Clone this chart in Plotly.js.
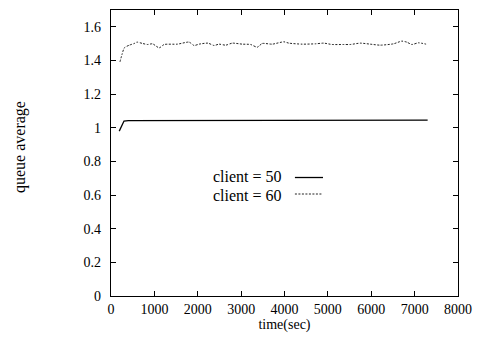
<!DOCTYPE html>
<html>
<head>
<meta charset="utf-8">
<script src="https://cdn.plot.ly/plotly-3.0.1.min.js"></script>
<style>html,body{margin:0;padding:0;background:#fff;}</style>
</head>
<body>
<div id="chart" style="width:484px;height:341px;"></div>
<script>
// client = 50 (solid)
const time50 = [190, 250, 300, 400, 1000, 2000, 3000, 4000, 5000, 6000, 7000, 7300];
const queue50 = [0.98, 1.01, 1.04, 1.042, 1.042, 1.042, 1.043, 1.043, 1.044, 1.044, 1.045, 1.045];

// client = 60 (dashed)
const time60 = [207, 253, 307, 421, 536, 598, 728, 843, 958, 1111, 1226, 1532, 1800, 1916, 2030, 2237, 2375, 2490, 2644, 2797, 3027, 3218, 3372, 3487, 3717, 3985, 4100, 4406, 4713, 4904, 5096, 5363, 5517, 5747, 5977, 6207, 6513, 6705, 6820, 6935, 7088, 7264];
const queue60 = [1.392, 1.435, 1.475, 1.491, 1.501, 1.509, 1.501, 1.495, 1.499, 1.475, 1.495, 1.497, 1.509, 1.489, 1.497, 1.503, 1.489, 1.497, 1.491, 1.503, 1.497, 1.495, 1.479, 1.501, 1.497, 1.511, 1.503, 1.497, 1.499, 1.503, 1.495, 1.495, 1.495, 1.503, 1.497, 1.491, 1.499, 1.515, 1.509, 1.495, 1.505, 1.497];

const xTicks = [0, 1000, 2000, 3000, 4000, 5000, 6000, 7000, 8000];
const yTicks = [0, 0.2, 0.4, 0.6, 0.8, 1, 1.2, 1.4, 1.6];
const legendLabels = ["client = 50", "client = 60"];

const fam = "Liberation Serif, Times New Roman, serif";
const font = {family: fam, size: 14, color: "#000"};

const traces = [
  {x: time50, y: queue50, mode: "lines", line: {color: "#000", width: 1.3}, showlegend: false},
  {x: time60, y: queue60, mode: "lines", line: {color: "#222", width: 1, dash: "2px,1.5px", shape: "spline", smoothing: 0.6}, showlegend: false}
];

const axisCommon = {
  showgrid: false, zeroline: false, showline: true, linecolor: "#000", linewidth: 1.3,
  mirror: "ticks", ticks: "inside", ticklen: 5, tickcolor: "#000", tickwidth: 1,
  tickfont: font
};

const layout = {
  width: 484, height: 341,
  margin: {l: 111, r: 26, t: 10, b: 45},
  paper_bgcolor: "#fff", plot_bgcolor: "#fff",
  font: font,
  xaxis: Object.assign({}, axisCommon, {
    range: [0, 8000], tickvals: xTicks, ticktext: xTicks.map(String),
    title: {text: "time(sec)", font: font, standoff: 2}
  }),
  yaxis: Object.assign({}, axisCommon, {
    range: [0, 1.7], tickvals: yTicks, ticktext: yTicks.map(String), ticklabelstandoff: 6
  }),
  annotations: [
    {text: "queue average", xref: "paper", yref: "paper", x: 0, y: 0.521, xanchor: "center", yanchor: "middle",
     xshift: -91, textangle: -90, showarrow: false, font: {family: fam, size: 16, color: "#000"}},
    {text: legendLabels[0], xref: "paper", yref: "paper", x: 0.4986, y: 0.4178, xanchor: "right", yanchor: "middle",
     showarrow: false, font: {family: fam, size: 16, color: "#000"}},
    {text: legendLabels[1], xref: "paper", yref: "paper", x: 0.4986, y: 0.3531, xanchor: "right", yanchor: "middle",
     showarrow: false, font: {family: fam, size: 16, color: "#000"}}
  ],
  shapes: [
    {type: "line", xref: "paper", yref: "paper", x0: 0.530, x1: 0.611, y0: 0.4143, y1: 0.4143, line: {color: "#000", width: 1.3}},
    {type: "line", xref: "paper", yref: "paper", x0: 0.530, x1: 0.608, y0: 0.3566, y1: 0.3566, line: {color: "#222", width: 1, dash: "2px,1.5px"}}
  ]
};

Plotly.newPlot("chart", traces, layout, {staticPlot: true, displayModeBar: false});
</script>
</body>
</html>
